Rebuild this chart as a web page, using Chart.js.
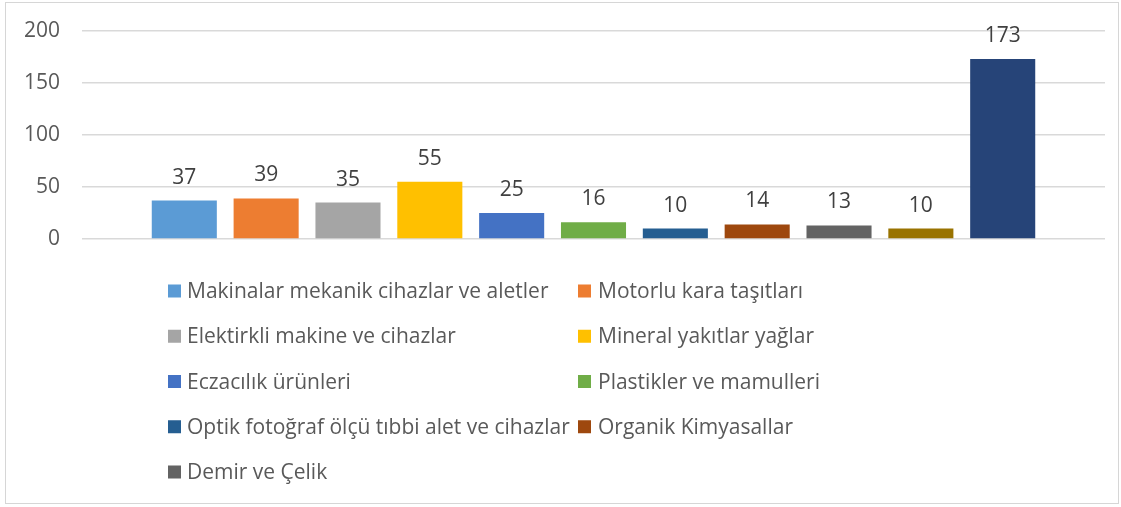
<!DOCTYPE html>
<html><head><meta charset="utf-8">
<script src="https://cdn.jsdelivr.net/npm/chart.js@4"></script>
<style>
html,body{margin:0;padding:0;background:#fff}
#wrap{position:relative;width:1121px;height:507px}
#frame{position:absolute;left:5px;top:2px;width:1114px;height:502px;border:1px solid #d6d6d6;box-sizing:border-box;pointer-events:none}
canvas{display:block}
</style></head><body>
<div id="wrap"><canvas id="c" width="1121" height="507"></canvas><div id="frame"></div></div>
<script>
const categories = [
  "Makinalar mekanik cihazlar ve aletler",
  "Motorlu kara taşıtları",
  "Elektirkli makine ve cihazlar",
  "Mineral yakıtlar yağlar",
  "Eczacılık ürünleri",
  "Plastikler ve mamulleri",
  "Optik fotoğraf ölçü tıbbi alet ve cihazlar",
  "Organik Kimyasallar",
  "Demir ve Çelik",
  "Demir veya çelikten eşya",
  "Diğer"
];
const values = [37, 39, 35, 55, 25, 16, 10, 14, 13, 10, 173];
const colors = ["#5B9BD5","#ED7D31","#A5A5A5","#FFC000","#4472C4","#70AD47","#255E91","#9E480E","#636363","#997300","#264478"];
const yTickValues = [0, 50, 100, 150, 200];
const legendShown = 9;

const FONT = '"Open Sans", sans-serif';
const FS = 21;

const valueLabels = {
  id: 'valueLabels',
  afterDatasetsDraw(chart) {
    const ctx = chart.ctx;
    ctx.save();
    ctx.font = FS + 'px ' + FONT;
    ctx.fillStyle = '#404040';
    ctx.textAlign = 'center';
    ctx.textBaseline = 'alphabetic';
    chart.data.datasets.forEach((ds, i) => {
      const meta = chart.getDatasetMeta(i);
      meta.data.forEach((el, j) => {
        ctx.fillText(String(ds.data[j]), el.x, el.y - 17);
      });
    });
    ctx.restore();
  }
};

const colLegend = {
  id: 'colLegend',
  afterDraw(chart) {
    const ctx = chart.ctx;
    ctx.save();
    ctx.font = FS + 'px ' + FONT;
    ctx.textBaseline = 'alphabetic';
    ctx.textAlign = 'left';
    const boxX = [168, 578], textX = [187, 598];
    chart.data.datasets.slice(0, legendShown).forEach((ds, i) => {
      const col = i % 2, row = Math.floor(i / 2);
      const cy = 291 + row * 45.25;
      ctx.fillStyle = ds.backgroundColor;
      ctx.fillRect(boxX[col], cy - 6.5, 13, 13);
      ctx.fillStyle = '#595959';
      ctx.fillText(ds.label, textX[col], cy + 7);
    });
    ctx.restore();
  }
};

new Chart(document.getElementById('c'), {
  type: 'bar',
  data: {
    labels: [''],
    datasets: categories.map((c, i) => ({
      label: c,
      data: [values[i]],
      backgroundColor: colors[i],
      categoryPercentage: 0.88,
      barPercentage: 0.795
    }))
  },
  options: {
    responsive: false,
    animation: false,
    layout: { padding: { top: 31, right: 16, bottom: 268, left: 0 } },
    plugins: { legend: { display: false }, tooltip: { enabled: false } },
    scales: {
      x: { display: false },
      y: {
        min: 0, max: 200,
        afterBuildTicks(s) { s.ticks = yTickValues.map(v => ({ value: v })); },
        afterFit(s) { s.width = 82; s.paddingTop = 0; s.paddingBottom = 0; },
        ticks: { color: '#595959', font: { family: FONT, size: FS }, padding: 22 },
        grid: { color: '#d9d9d9', lineWidth: 1.5, drawTicks: false },
        border: { display: false }
      }
    }
  },
  plugins: [valueLabels, colLegend]
});
</script>
</body></html>
